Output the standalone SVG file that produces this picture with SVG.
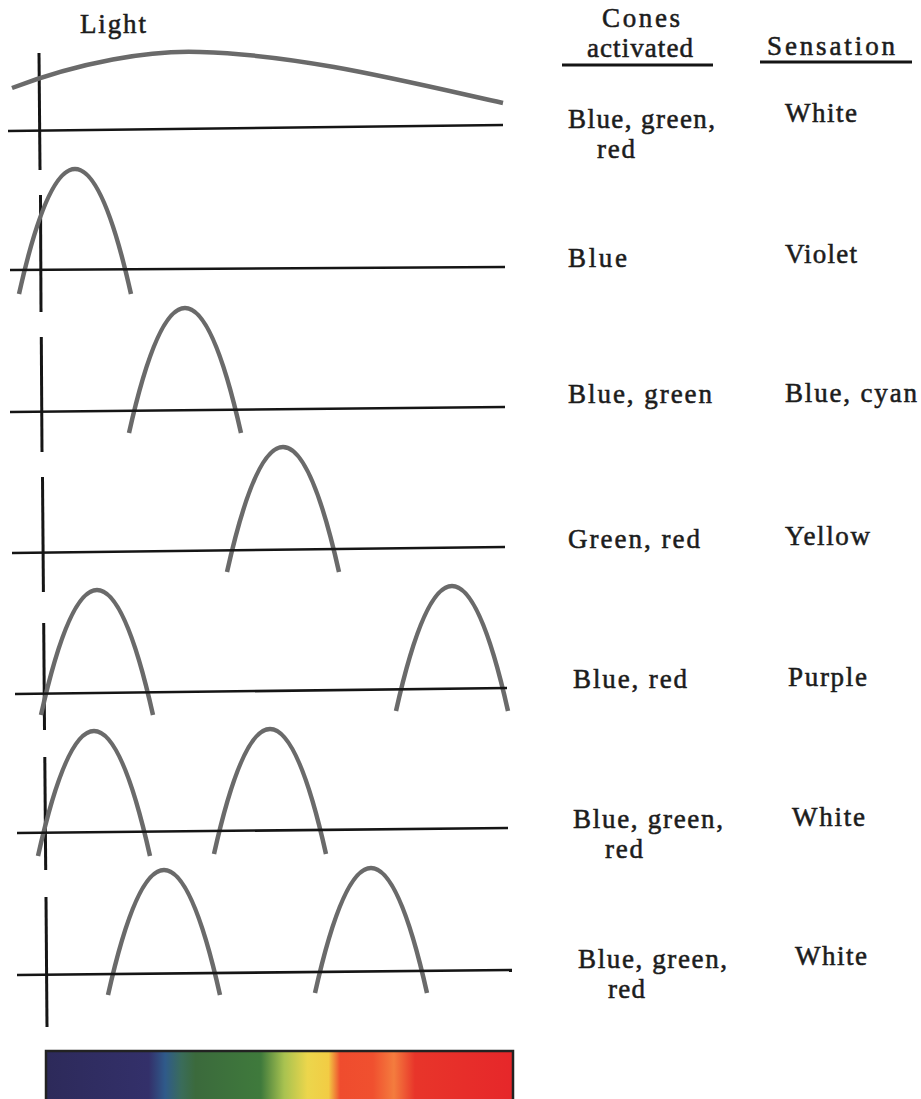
<svg xmlns="http://www.w3.org/2000/svg" xmlns:xlink="http://www.w3.org/1999/xlink" width="921" height="1099" viewBox="0 0 921 1099">
<style>
  text { font-family: "Liberation Serif", "Times New Roman", serif; font-size: 27px; fill: #1c1c1c; stroke: #1c1c1c; stroke-width: 0.55; }
  .curve { fill: none; stroke: #6a6a6a; stroke-width: 4.5; stroke-linecap: butt; }
  .axis { fill: none; stroke: #151515; stroke-width: 2.6; }
  .vert { fill: none; stroke: #151515; stroke-width: 3; }
  .rule { fill: none; stroke: #151515; stroke-width: 2.8; }
</style>
<defs>
  <path id="hump" d="M-56,0 Q0,-250 56,0"/>
  <linearGradient id="spec" x1="0" y1="0" x2="1" y2="0">
    <stop offset="0" stop-color="#2d2a5a"/>
    <stop offset="0.22" stop-color="#33306a"/>
    <stop offset="0.255" stop-color="#2f5a8a"/>
    <stop offset="0.29" stop-color="#3a6c5a"/>
    <stop offset="0.32" stop-color="#3b6a3c"/>
    <stop offset="0.46" stop-color="#3f7a3c"/>
    <stop offset="0.51" stop-color="#a8c250"/>
    <stop offset="0.56" stop-color="#ecd64c"/>
    <stop offset="0.605" stop-color="#f2cc44"/>
    <stop offset="0.63" stop-color="#ef4c2e"/>
    <stop offset="0.7" stop-color="#f0502f"/>
    <stop offset="0.745" stop-color="#f47c3e"/>
    <stop offset="0.79" stop-color="#e8352a"/>
    <stop offset="1" stop-color="#e6272a"/>
  </linearGradient>
</defs>

<g id="headers">
  <text x="80" y="33" textLength="66" lengthAdjust="spacing">Light</text>
  <text x="602" y="27" textLength="78" lengthAdjust="spacing">Cones</text>
  <text x="587" y="57" textLength="106" lengthAdjust="spacing">activated</text>
  <line class="rule" x1="562" y1="65" x2="713" y2="65"/>
  <text x="767" y="55" textLength="128" lengthAdjust="spacing">Sensation</text>
  <line class="rule" x1="760" y1="62" x2="912" y2="62"/>
</g>

<g id="connectors">
  <line class="vert" x1="39" y1="53" x2="40" y2="170"/>
  <line class="vert" x1="40.5" y1="195" x2="41" y2="312"/>
  <line class="vert" x1="41.3" y1="337" x2="42" y2="452"/>
  <line class="vert" x1="42.5" y1="477" x2="43.4" y2="592"/>
  <line class="vert" x1="43.7" y1="623" x2="44.5" y2="730"/>
  <line class="vert" x1="44.8" y1="757" x2="45.7" y2="870"/>
  <line class="vert" x1="46" y1="897" x2="47" y2="1027"/>
</g>

<g id="panel1">
  <path class="curve" d="M12,88 C80,62 150,50 200,52 C300,55 400,80 503,103"/>
  <line class="axis" x1="8" y1="131" x2="503" y2="125"/>
  <text x="568" y="128" textLength="147" lengthAdjust="spacing">Blue, green,</text>
  <text x="597" y="158" textLength="38" lengthAdjust="spacing">red</text>
  <text x="785" y="122" textLength="72" lengthAdjust="spacing">White</text>
</g>

<g id="panel2">
  <use xlink:href="#hump" href="#hump" class="curve" x="75" y="294"/>
  <line class="axis" x1="10" y1="270" x2="505" y2="267"/>
  <text x="568" y="267" textLength="59" lengthAdjust="spacing">Blue</text>
  <text x="785" y="263" textLength="72" lengthAdjust="spacing">Violet</text>
</g>

<g id="panel3">
  <use xlink:href="#hump" href="#hump" class="curve" x="185" y="433"/>
  <line class="axis" x1="10" y1="412" x2="505" y2="407"/>
  <text x="568" y="403" textLength="144" lengthAdjust="spacing">Blue, green</text>
  <text x="785" y="402" textLength="132" lengthAdjust="spacing">Blue, cyan</text>
</g>

<g id="panel4">
  <use xlink:href="#hump" href="#hump" class="curve" x="283" y="572"/>
  <line class="axis" x1="12" y1="553" x2="505" y2="547"/>
  <text x="568" y="548" textLength="132" lengthAdjust="spacing">Green, red</text>
  <text x="785" y="545" textLength="85" lengthAdjust="spacing">Yellow</text>
</g>

<g id="panel5">
  <use xlink:href="#hump" href="#hump" class="curve" x="97" y="715"/>
  <use xlink:href="#hump" href="#hump" class="curve" x="452" y="711"/>
  <line class="axis" x1="15" y1="694" x2="507" y2="688"/>
  <text x="573" y="688" textLength="114" lengthAdjust="spacing">Blue, red</text>
  <text x="788" y="686" textLength="79" lengthAdjust="spacing">Purple</text>
</g>

<g id="panel6">
  <use xlink:href="#hump" href="#hump" class="curve" x="94" y="856"/>
  <use xlink:href="#hump" href="#hump" class="curve" x="270" y="854"/>
  <line class="axis" x1="17" y1="833" x2="508" y2="828"/>
  <text x="573" y="828" textLength="150" lengthAdjust="spacing">Blue, green,</text>
  <text x="605" y="858" textLength="38" lengthAdjust="spacing">red</text>
  <text x="792" y="826" textLength="73" lengthAdjust="spacing">White</text>
</g>

<g id="panel7">
  <use xlink:href="#hump" href="#hump" class="curve" x="164" y="995"/>
  <use xlink:href="#hump" href="#hump" class="curve" x="371" y="993"/>
  <line class="axis" x1="17" y1="975" x2="512" y2="970"/>
  <text x="578" y="968" textLength="149" lengthAdjust="spacing">Blue, green,</text>
  <text x="608" y="998" textLength="37" lengthAdjust="spacing">red</text>
  <text x="795" y="965" textLength="72" lengthAdjust="spacing">White</text>
</g>

<g id="spectrum">
  <rect x="46" y="1051" width="467" height="52" fill="url(#spec)" stroke="#222" stroke-width="2.5"/>
</g>
</svg>
